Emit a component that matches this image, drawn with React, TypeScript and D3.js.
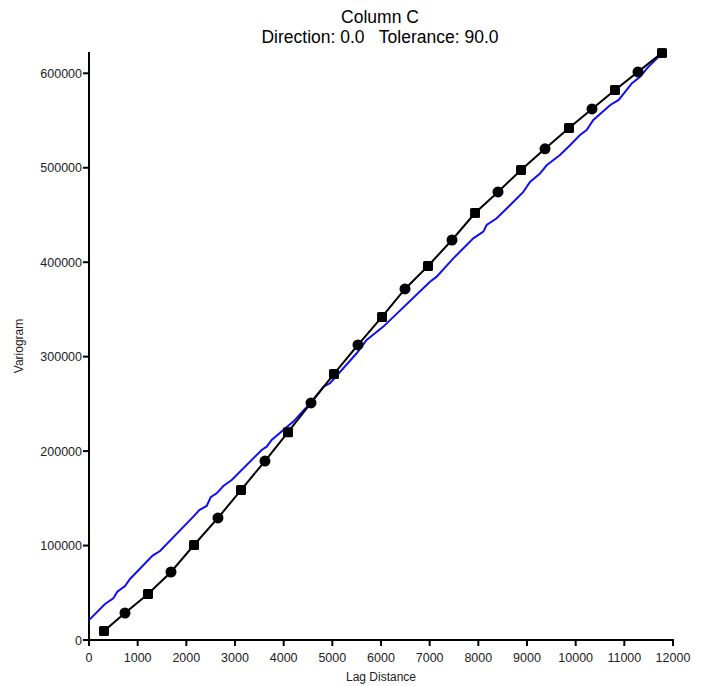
import React from "react";
import * as d3 from "d3";

const lagDistances = [308, 740, 1212, 1685, 2158, 2650, 3123, 3616, 4089, 4562, 5034, 5527, 6021, 6493, 6966, 7459, 7932, 8404, 8877, 9370, 9863, 10336, 10808, 11281, 11774];
const variogramValues = [9500, 28600, 48700, 72000, 100600, 129200, 158800, 189500, 220000, 251000, 281700, 312400, 342000, 371700, 396000, 423500, 452100, 474400, 497700, 520000, 542100, 562300, 582400, 601500, 621600];

const modelX = [0, 329, 500, 582, 740, 842, 1308, 1459, 2144, 2267, 2418, 2500, 2623, 2760, 2932, 3548, 3651, 3754, 4198, 4541, 4817, 4952, 5500, 5705, 5877, 6048, 7007, 7144, 7486, 7897, 8103, 8171, 8377, 8651, 8925, 9062, 9267, 9404, 9678, 9884, 10089, 10226, 10363, 10712, 10884, 11158, 11329, 11466, 11671, 11829];
const modelY = [21000, 38100, 44100, 51100, 57200, 64600, 89300, 94200, 130600, 137600, 141900, 151100, 155300, 163000, 169400, 201200, 204700, 211800, 231200, 250600, 268200, 271800, 303600, 317700, 324800, 331800, 379400, 384700, 404100, 425300, 432400, 439400, 446500, 460300, 474400, 485000, 493800, 502600, 513500, 523800, 534700, 540000, 550600, 566500, 571800, 589500, 596500, 605300, 615900, 621900];

const xTicks = [0, 1000, 2000, 3000, 4000, 5000, 6000, 7000, 8000, 9000, 10000, 11000, 12000];
const yTicks = [0, 100000, 200000, 300000, 400000, 500000, 600000];

const titleLines = ["Column C", "Direction: 0.0   Tolerance: 90.0"];
const xLabel = "Lag Distance";
const yLabel = "Variogram";

export default function App() {
  const W = 704, H = 686;
  const x = d3.scaleLinear().domain([0, 12000]).range([89, 673]);
  const y = d3.scaleLinear().domain([0, 600000]).range([640, 73.3]);
  const yTop = y(622500);
  const font = "'Liberation Sans', Arial, sans-serif";

  const expLine = d3.line<number>().x((d, i) => x(lagDistances[i])).y((d) => y(d))(variogramValues) || "";
  const modelLine = d3.line<number>().x((d, i) => x(modelX[i])).y((d) => y(d))(modelY) || "";

  return (
    <svg width={W} height={H} style={{ position: "absolute", left: 0, top: 0, display: "block", background: "#fff" }} fontFamily={font}>
      <text x={380} y={23} textAnchor="middle" fontSize={17.5} fill="#000">{titleLines[0]}</text>
      <text x={380} y={43} textAnchor="middle" fontSize={17.5} fill="#000" style={{ whiteSpace: "pre" }}>{titleLines[1]}</text>

      {/* axes */}
      <line x1={x(0)} x2={x(0)} y1={yTop} y2={y(0) + 1} stroke="#000" strokeWidth={2} />
      <line x1={x(0) - 1} x2={x(12000) + 1} y1={y(0)} y2={y(0)} stroke="#000" strokeWidth={2} />
      {xTicks.map((t) => (
        <g key={"x" + t}>
          <line x1={x(t)} x2={x(t)} y1={y(0)} y2={y(0) + 6} stroke="#000" strokeWidth={2} />
          <text x={x(t)} y={y(0) + 22} textAnchor="middle" fontSize={12.5} fill="#222">{t}</text>
        </g>
      ))}
      {yTicks.map((t) => (
        <g key={"y" + t}>
          <line x1={x(0) - 6} x2={x(0)} y1={y(t)} y2={y(t)} stroke="#000" strokeWidth={2} />
          <text x={x(0) - 7} y={y(t) + 4.5} textAnchor="end" fontSize={12.5} fill="#222">{t}</text>
        </g>
      ))}
      <text x={381} y={681} textAnchor="middle" fontSize={12} fill="#222">{xLabel}</text>
      <text transform={`translate(23, 346) rotate(-90)`} textAnchor="middle" fontSize={12} fill="#222">{yLabel}</text>

      {/* model */}
      <path d={modelLine} fill="none" stroke="#1010ee" strokeWidth={2} />
      {/* experimental */}
      <path d={expLine} fill="none" stroke="#000" strokeWidth={2} />
      {variogramValues.map((v, i) => {
        const cx = x(lagDistances[i]);
        const cy = y(v);
        return i % 2 === 0 ? (
          <rect key={i} x={cx - 5} y={cy - 5} width={10} height={10} rx={1.5} fill="#000" />
        ) : (
          <circle key={i} cx={cx} cy={cy} r={5.5} fill="#000" />
        );
      })}
    </svg>
  );
}
